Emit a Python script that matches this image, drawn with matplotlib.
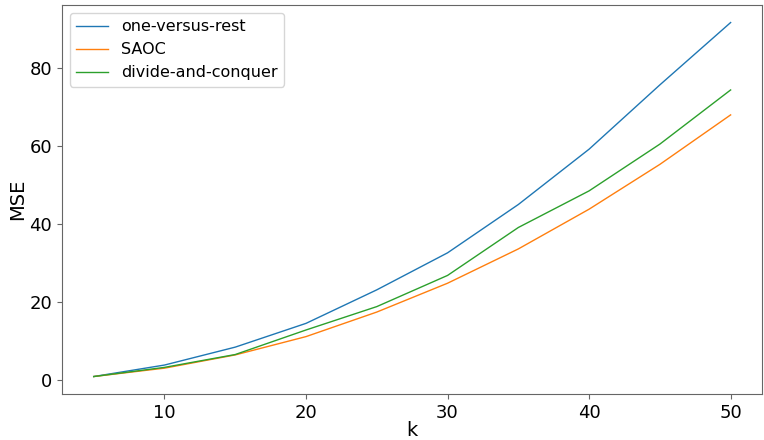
import matplotlib
matplotlib.use("Agg")
import matplotlib.pyplot as plt

k = [5, 10, 15, 20, 25, 30, 35, 40, 45, 50]
ovr = [0.85, 3.8, 8.4, 14.5, 23.1, 32.6, 45.0, 59.2, 75.7, 91.7]
saoc = [0.85, 3.0, 6.4, 11.1, 17.4, 24.8, 33.6, 43.8, 55.3, 68.0]
dac = [0.85, 3.2, 6.5, 12.8, 18.8, 26.8, 39.1, 48.5, 60.5, 74.4]

fig = plt.figure(figsize=(7.64, 4.40), dpi=100)
ax = fig.add_axes([0.081, 0.104, 0.917, 0.885])
ax.plot(k, ovr, lw=1.0, label="one-versus-rest")
ax.plot(k, saoc, lw=1.0, label="SAOC")
ax.plot(k, dac, lw=1.0, label="divide-and-conquer")
ax.set_xlabel("k", fontsize=14, labelpad=-1)
ax.set_ylabel("MSE", fontsize=14, labelpad=2)
ax.tick_params(labelsize=13, color="0.4")
for s in ax.spines.values():
    s.set_color("0.4")
ax.legend(fontsize=11.5, loc="upper left")
fig.savefig("out.png")
